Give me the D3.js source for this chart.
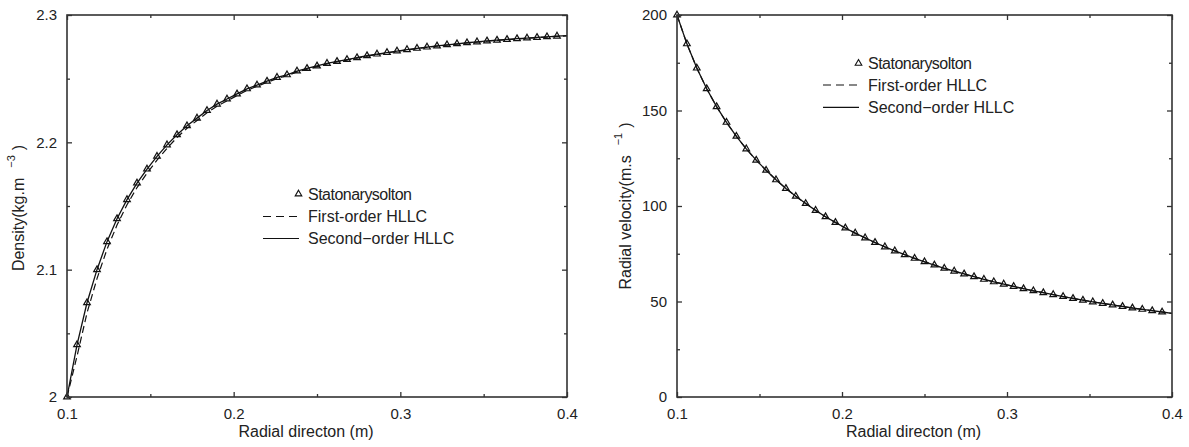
<!DOCTYPE html>
<html><head><meta charset="utf-8">
<script src="https://cdn.jsdelivr.net/npm/d3@7/dist/d3.min.js"></script>
<style>body{margin:0;background:#fff}svg{display:block}</style></head>
<body>
<svg id="c" width="1189" height="447"></svg>
<script>
// ---------- data ----------
const markerRadius = [0.100,0.106,0.112,0.118,0.124,0.130,0.136,0.142,0.148,0.154,0.160,0.166,0.172,0.178,0.184,0.190,0.196,0.202,0.208,0.214,0.220,0.226,0.232,0.238,0.244,0.250,0.256,0.262,0.268,0.274,0.280,0.286,0.292,0.298,0.304,0.310,0.316,0.322,0.328,0.334,0.340,0.346,0.352,0.358,0.364,0.370,0.376,0.382,0.388,0.394];
const lineRadius = [0.100,0.106,0.112,0.118,0.124,0.130,0.136,0.142,0.148,0.154,0.160,0.166,0.172,0.178,0.184,0.190,0.196,0.202,0.208,0.214,0.220,0.226,0.232,0.238,0.244,0.250,0.256,0.262,0.268,0.274,0.280,0.286,0.292,0.298,0.304,0.310,0.316,0.322,0.328,0.334,0.340,0.346,0.352,0.358,0.364,0.370,0.376,0.382,0.388,0.394,0.400];

const stationaryDensity = [2.000,2.041,2.074,2.100,2.122,2.140,2.155,2.168,2.179,2.189,2.198,2.206,2.213,2.219,2.225,2.230,2.234,2.238,2.242,2.245,2.248,2.251,2.253,2.256,2.258,2.260,2.262,2.2635,2.265,2.2665,2.268,2.2693,2.2705,2.2717,2.2728,2.2738,2.2748,2.2757,2.2766,2.2774,2.2782,2.2789,2.2796,2.2802,2.2808,2.2814,2.2819,2.2824,2.2829,2.2834];
const secondOrderDensity = [2.000,2.041,2.074,2.100,2.122,2.140,2.155,2.168,2.179,2.189,2.198,2.206,2.213,2.219,2.225,2.230,2.234,2.238,2.242,2.245,2.248,2.251,2.253,2.256,2.258,2.260,2.262,2.2635,2.265,2.2665,2.268,2.2693,2.2705,2.2717,2.2728,2.2738,2.2748,2.2757,2.2766,2.2774,2.2782,2.2789,2.2796,2.2802,2.2808,2.2814,2.2819,2.2824,2.2829,2.2834,2.2838];
const firstOrderDensity = [2.000,2.032,2.066,2.093,2.116,2.135,2.151,2.1645,2.1758,2.186,2.1953,2.2038,2.211,2.2172,2.2232,2.2284,2.2326,2.2367,2.2408,2.244,2.2471,2.2501,2.2523,2.2552,2.2574,2.2595,2.2615,2.2631,2.2646,2.2661,2.2676,2.269,2.2702,2.2714,2.2725,2.2736,2.2746,2.2755,2.2764,2.2772,2.278,2.2787,2.2794,2.28,2.2806,2.2812,2.2817,2.2822,2.2827,2.2832,2.2836];

const stationaryVelocity = [200.0,184.9,172.2,161.4,152.0,143.8,136.5,129.9,124.0,118.7,113.7,109.2,105.1,101.3,97.7,94.4,91.4,88.5,85.8,83.3,80.9,78.6,76.5,74.5,72.6,70.8,69.1,67.4,65.9,64.4,63.0,61.6,60.3,59.1,57.9,56.7,55.6,54.6,53.6,52.6,51.6,50.7,49.8,49.0,48.2,47.4,46.6,45.9,45.2,44.5];
const secondOrderVelocity = [200.0,184.9,172.2,161.4,152.0,143.8,136.5,129.9,124.0,118.7,113.7,109.2,105.1,101.3,97.7,94.4,91.4,88.5,85.8,83.3,80.9,78.6,76.5,74.5,72.6,70.8,69.1,67.4,65.9,64.4,63.0,61.6,60.3,59.1,57.9,56.7,55.6,54.6,53.6,52.6,51.6,50.7,49.8,49.0,48.2,47.4,46.6,45.9,45.2,44.5,43.8];
const firstOrderVelocity = [200.0,184.9,172.2,161.4,152.0,143.8,136.5,129.9,124.0,118.7,113.7,109.2,105.1,101.3,97.7,94.4,91.4,88.5,85.8,83.3,80.9,78.6,76.5,74.5,72.6,70.8,69.1,67.4,65.9,64.4,63.0,61.6,60.3,59.1,57.9,56.7,55.6,54.6,53.6,52.6,51.6,50.7,49.8,49.0,48.2,47.4,46.6,45.9,45.2,44.5,43.8];

const xMajorTicks = [0.1,0.2,0.3,0.4];
const xMinorTicks = [0.15,0.25,0.35];
const xTickLabels = ["0.1","0.2","0.3","0.4"];
const densityMajorTicks = [2,2.1,2.2,2.3];
const densityMinorTicks = [2.05,2.15,2.25];
const densityTickLabels = ["2","2.1","2.2","2.3"];
const velocityMajorTicks = [0,50,100,150,200];
const velocityMinorTicks = [25,75,125,175];
const velocityTickLabels = ["0","50","100","150","200"];
const legendLabels = ["Statonarysolton","First-order HLLC","Second\u2212order HLLC"];
const xTitle = "Radial directon (m)";

// ---------- drawing ----------
const svg = d3.select("#c");
svg.append("rect").attr("width",1189).attr("height",447).attr("fill","#fff");
const FONT = "'Liberation Sans', Arial, Helvetica, sans-serif";
const AX = "#333";

function panel(o){
  const g = svg.append("g");
  const x = d3.scaleLinear().domain([0.1,0.4]).range([o.x0,o.x1]);
  const y = d3.scaleLinear().domain(o.yDomain).range([o.y1,o.y0]);

  // curves
  const line = d3.line().x(d=>x(d[0])).y(d=>y(d[1]));
  g.append("path").datum(lineRadius.map((r,i)=>[r,o.first[i]]))
    .attr("d",line).attr("fill","none").attr("stroke","#111")
    .attr("stroke-width",1.2).attr("stroke-dasharray","7,4");
  g.append("path").datum(lineRadius.map((r,i)=>[r,o.second[i]]))
    .attr("d",line).attr("fill","none").attr("stroke","#111").attr("stroke-width",1.3);
  const tri = d3.symbol().type(d3.symbolTriangle).size(19);
  g.selectAll("path.m").data(markerRadius.map((r,i)=>[r,o.stat[i]])).join("path")
    .attr("class","m").attr("d",tri)
    .attr("transform",d=>`translate(${x(d[0])},${y(d[1])})`)
    .attr("fill","none").attr("stroke","#111").attr("stroke-width",1.2);

  // axes with inward ticks
  function ax(gen, pos, vals, size, labels, pad){
    const a = gen.tickValues(vals).tickSize(-size).tickPadding(pad||0)
      .tickFormat(labels ? ((d,i)=>labels[i]) : ()=>"");
    const s = g.append("g").attr("transform",pos).call(a);
    s.select(".domain").remove();
    s.selectAll("line").attr("stroke",AX).attr("stroke-width",1.3);
    s.selectAll("text").attr("font-family",FONT).attr("font-size",15).attr("fill","#222");
    return s;
  }
  ax(d3.axisBottom(x), `translate(0,${o.y1})`, xMajorTicks, 5, xTickLabels, 11);
  ax(d3.axisBottom(x), `translate(0,${o.y1})`, xMinorTicks, 3);
  ax(d3.axisTop(x), `translate(0,${o.y0})`, xMajorTicks, 5);
  ax(d3.axisTop(x), `translate(0,${o.y0})`, xMinorTicks, 3);
  ax(d3.axisLeft(y), `translate(${o.x0},0)`, o.yMajor, 5, o.yLabels, 10);
  ax(d3.axisLeft(y), `translate(${o.x0},0)`, o.yMinor, 3);
  ax(d3.axisRight(y), `translate(${o.x1},0)`, o.yMajor, 5);
  ax(d3.axisRight(y), `translate(${o.x1},0)`, o.yMinor, 3);
  g.append("rect").attr("x",o.x0).attr("y",o.y0).attr("width",o.x1-o.x0).attr("height",o.y1-o.y0)
    .attr("fill","none").attr("stroke",AX).attr("stroke-width",1.6);

  // x title
  g.append("text").attr("x",(o.x0+o.x1)/2-11).attr("y",437).attr("text-anchor","middle")
    .attr("font-family",FONT).attr("font-size",16).attr("fill","#222").text(xTitle);
  // y title
  const yt = g.append("text").attr("transform",`translate(${o.ytx},${o.yty}) rotate(-90)`)
    .attr("text-anchor","middle").attr("font-family",FONT).attr("font-size",16).attr("fill","#222");
  yt.append("tspan").text(o.yTitle);
  yt.append("tspan").attr("dx",10).attr("dy",-9).attr("font-size",11).text(o.yExp);
  yt.append("tspan").attr("dx",5).attr("dy",9).text(")");

  // legend
  const L = g.append("g");
  o.legRows.forEach((cy,i)=>{
    const tx = o.legX;
    if(i===0){
      L.append("path").attr("d",tri).attr("transform",`translate(${tx-9.5},${cy})`)
        .attr("fill","none").attr("stroke","#111").attr("stroke-width",1.1);
    } else {
      L.append("line").attr("x1",tx-45).attr("x2",tx-9).attr("y1",cy).attr("y2",cy)
        .attr("stroke","#111").attr("stroke-width",1.2)
        .attr("stroke-dasharray", i===1 ? "8,5" : null);
    }
    const t = L.append("text").attr("x",tx).attr("y",cy+5.8).attr("font-family",FONT)
      .attr("font-size",16).attr("fill","#222").text(legendLabels[i]);
    if(i===0) t.attr("textLength",104).attr("lengthAdjust","spacing");
  });
}

panel({x0:67,x1:567,y0:15,y1:397,yDomain:[2,2.3],
  stat:stationaryDensity, first:firstOrderDensity, second:secondOrderDensity,
  yMajor:densityMajorTicks, yMinor:densityMinorTicks, yLabels:densityTickLabels,
  yTitle:"Density(kg.m", yExp:"\u22123", ytx:24, yty:208,
  legX:308, legRows:[194,216.5,238.5]});
panel({x0:677,x1:1172,y0:15,y1:397,yDomain:[0,200],
  stat:stationaryVelocity, first:firstOrderVelocity, second:secondOrderVelocity,
  yMajor:velocityMajorTicks, yMinor:velocityMinorTicks, yLabels:velocityTickLabels,
  yTitle:"Radial velocity(m.s", yExp:"\u22121", ytx:631, yty:206,
  legX:868, legRows:[63.3,85,107.3]});
</script>
</body></html>
